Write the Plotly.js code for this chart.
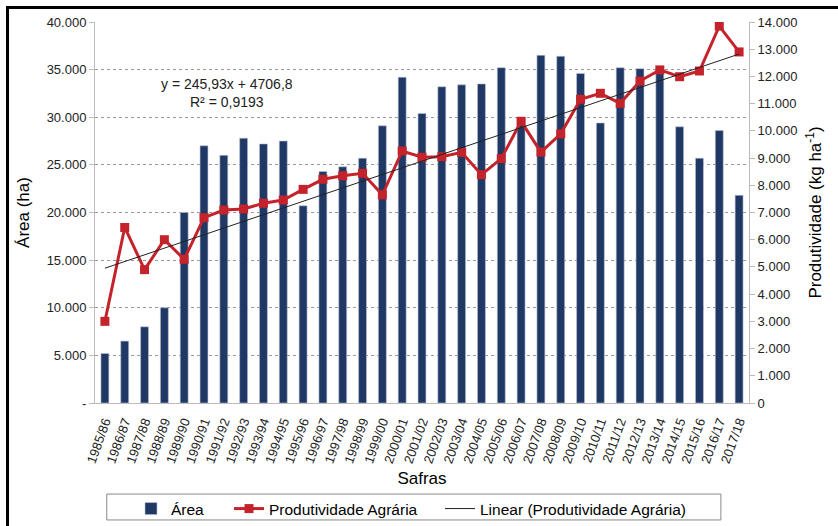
<!DOCTYPE html>
<html>
<head>
<meta charset="utf-8">
<script src="https://cdn.plot.ly/plotly-3.0.1.min.js"></script>
<style>
  html, body { margin: 0; padding: 0; background: #fff; overflow: hidden; }
  #chart { width: 838px; height: 526px; }
  #frame { position: absolute; left: 6px; top: 6px; width: 829px; height: 517px;
           border-left: 3px solid #000; border-top: 3px solid #000; pointer-events: none; }
</style>
</head>
<body>
<div id="chart"></div>
<div id="frame"></div>
<script>
var safras = ['1985/86', '1986/87', '1987/88', '1988/89', '1989/90', '1990/91', '1991/92', '1992/93',
    '1993/94', '1994/95', '1995/96', '1996/97', '1997/98', '1998/99', '1999/00', '2000/01', '2001/02',
    '2002/03', '2003/04', '2004/05', '2005/06', '2006/07', '2007/08', '2008/09', '2009/10', '2010/11',
    '2011/12', '2012/13', '2013/14', '2014/15', '2015/16', '2016/17', '2017/18'];

// área plantada (ha)
var area = [5200, 6500, 8000, 10000, 20000, 27000, 26000, 27800, 27200, 27500, 20700, 24300, 24800,
    25700, 29100, 34200, 30400, 33200, 33400, 33500, 35200, 30000, 36500, 36400, 34600, 29400,
    35200, 35100, 35000, 29000, 25700, 28600, 21800];

// produtividade (kg/ha)
var produtividade = [3000, 6450, 4900, 6000, 5280, 6810, 7090, 7130, 7340, 7460, 7850, 8220, 8350,
    8440, 7650, 9260, 9030, 9050, 9210, 8390, 8980, 10350, 9220, 9890, 11160, 11380, 11010, 11830,
    12240, 11990, 12200, 13850, 12900];

// linha de tendência, pontos inicial e final
var trendX = ['1985/86', '2017/18'];
var trendY = [4953, 12822];

var areaTicks = [0, 5000, 10000, 15000, 20000, 25000, 30000, 35000, 40000];
var areaTickText = ['-', '5.000', '10.000', '15.000', '20.000', '25.000', '30.000', '35.000', '40.000'];
var prodTicks = [0, 1000, 2000, 3000, 4000, 5000, 6000, 7000, 8000, 9000, 10000, 11000, 12000, 13000, 14000];
var prodTickText = ['0', '1.000', '2.000', '3.000', '4.000', '5.000', '6.000', '7.000', '8.000', '9.000',
    '10.000', '11.000', '12.000', '13.000', '14.000'];

var font = 'Liberation Sans, Arial, sans-serif';

var traceArea = {
    type: 'bar', x: safras, y: area, name: 'Área', legend: 'legend',
    marker: { color: '#1F3864', line: { color: '#b8c2d6', width: 0.6 } }
};
var traceProd = {
    type: 'scatter', mode: 'lines+markers', x: safras, y: produtividade, yaxis: 'y2',
    name: 'Produtividade Agrária', legend: 'legend2',
    line: { color: '#C4232B', width: 3 },
    marker: { symbol: 'square', size: 9, color: '#C4232B' }
};
var traceTrend = {
    type: 'scatter', mode: 'lines', x: trendX, y: trendY, yaxis: 'y2',
    name: 'Linear (Produtividade Agrária)', legend: 'legend3',
    line: { color: '#222', width: 1 }
};

// uma legenda por série para reproduzir o espaçamento do original
function legendAt(xpx) {
    return {
        orientation: 'h', xref: 'container', yref: 'container',
        x: xpx / 838, xanchor: 'left', y: 1 - 492 / 526, yanchor: 'top',
        borderwidth: 0, bgcolor: 'rgba(0,0,0,0)', font: { size: 15.5, color: '#000' }
    };
}

var layout = {
    width: 838, height: 526,
    margin: { l: 95, r: 89, t: 22, b: 123 },
    paper_bgcolor: '#fff', plot_bgcolor: '#fff',
    font: { family: font, size: 13, color: '#222' },
    bargap: 0.6,
    showlegend: true,
    legend: legendAt(131),
    legend2: legendAt(229),
    legend3: legendAt(440),
    xaxis: {
        type: 'category', range: [-0.5, safras.length - 0.5], tickangle: -70,
        tickfont: { size: 13, color: '#222' }, automargin: false, ticklabelstandoff: 5,
        showline: true, linecolor: '#bbb', linewidth: 1, ticks: '', showgrid: false,
        title: { text: 'Safras', font: { size: 17, color: '#000' }, standoff: 7 }
    },
    yaxis: {
        range: [0, 40000], tickvals: areaTicks, ticktext: areaTickText, automargin: false,
        showline: true, linecolor: '#bbb', ticks: 'outside', ticklen: 5, tickcolor: '#bbb',
        showgrid: true, gridcolor: '#999', griddash: 'dot', gridwidth: 1, zeroline: false,
        tickfont: { size: 13, color: '#222' },
        title: { text: 'Área (ha)', font: { size: 17, color: '#000' }, standoff: 12 }
    },
    yaxis2: {
        overlaying: 'y', side: 'right', range: [0, 14000], tickvals: prodTicks, ticktext: prodTickText,
        automargin: false,
        showline: true, linecolor: '#bbb', ticks: 'outside', ticklen: 5, tickcolor: '#bbb',
        showgrid: false, zeroline: false, tickfont: { size: 13, color: '#222' },
        title: { text: 'Produtividade (kg ha<sup>-1</sup>)', font: { size: 17, color: '#000' }, standoff: 12 }
    },
    shapes: [{
        type: 'rect', xref: 'paper', yref: 'paper', x0: 0.018, x1: 0.957, y0: -0.239, y1: -0.307,
        line: { color: '#888', width: 1 }, fillcolor: 'rgba(0,0,0,0)'
    }],
    annotations: [{
        xref: 'x', yref: 'y', x: '1991/92', xshift: 3, y: 32500, showarrow: false,
        text: 'y = 245,93x + 4706,8<br>R² = 0,9193', font: { size: 14, color: '#222' }, align: 'center'
    }]
};

Plotly.newPlot('chart', [traceArea, traceProd, traceTrend], layout, { displayModeBar: false, staticPlot: true });
</script>
</body>
</html>
